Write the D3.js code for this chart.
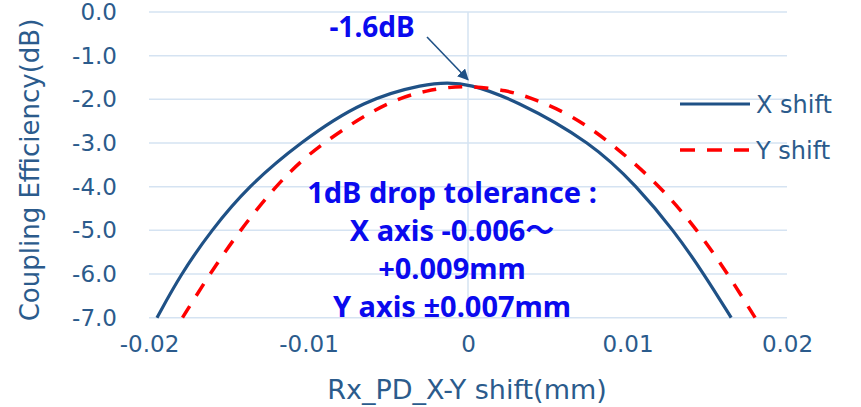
<!DOCTYPE html>
<html>
<head>
<meta charset="utf-8">
<script src="https://cdn.jsdelivr.net/npm/d3@7"></script>
<style>
  body { margin: 0; background: #fff; }
  svg { display: block; }
</style>
</head>
<body>
<svg id="chart" width="861" height="407"></svg>
<script>
// values
const xShiftPos = [-0.0195, -0.0180, -0.0161, -0.0138, -0.0106, -0.0065, -0.0026, -0.0013, 0.0, 0.0029, 0.0078, 0.0106, 0.0129, 0.0148, 0.0165];
const xShiftDb  = [-7.0, -6.0, -5.0, -4.0, -3.0, -2.0, -1.64, -1.62, -1.64, -2.0, -3.0, -4.0, -5.0, -6.0, -7.0];

const yShiftPos = [-0.0179, -0.0162, -0.0143, -0.0121, -0.0101, -0.0074, -0.0060, -0.0045, -0.0027, -0.0003, 0.0025, 0.0042, 0.0065, 0.0090, 0.0121, 0.0144, 0.0163, 0.0180];
const yShiftDb  = [-7.0, -6.0, -5.0, -4.0, -3.27, -2.58, -2.28, -2.0, -1.80, -1.67, -1.79, -2.0, -2.36, -3.0, -4.0, -5.0, -6.0, -7.0];

const xTicks = [-0.02, -0.01, 0, 0.01, 0.02];
const yTicks = [0, -1, -2, -3, -4, -5, -6, -7];

const seriesNames = ["X shift", "Y shift"];
const noteLines = ["1dB drop tolerance :", "X axis -0.006\u301C", "+0.009mm", "Y axis \u00B10.007mm"];
const peakLabel = "-1.6dB";

const textColor = "#2b5b8c",
    navy = "#1f5186",
    red = "#ff0000",
    gridColor = "#d5e3f2",
    noteBlue = "#0a0aee";

const svg = d3.select("#chart");

const x = d3.scaleLinear().domain([-0.02, 0.02]).range([149, 787]);
const y = d3.scaleLinear().domain([-7, 0]).range([317.7, 12]);

// horizontal grid
svg.append("g")
  .selectAll("line")
  .data(yTicks)
  .join("line")
    .attr("x1", x(-0.02)).attr("x2", x(0.02))
    .attr("y1", d => y(d)).attr("y2", d => y(d))
    .attr("stroke", gridColor).attr("stroke-width", 1.5);

// vertical axis line at zero
svg.append("line")
  .attr("x1", x(0)).attr("x2", x(0))
  .attr("y1", y(0)).attr("y2", y(-7))
  .attr("stroke", gridColor).attr("stroke-width", 1.5);

// y tick labels (hyphen minus, like the original)
const yAxis = d3.axisLeft(y).tickValues(yTicks).tickFormat(d => d.toFixed(1)).tickSize(0).tickPadding(0);
svg.append("g")
  .attr("transform", "translate(117,0)")
  .call(yAxis)
  .call(g => g.select(".domain").remove())
  .selectAll("text")
    .attr("fill", textColor)
    .style("font-family", "DejaVu Sans")
    .style("font-size", "23px");

// x tick labels
const xAxis = d3.axisBottom(x).tickValues(xTicks).tickFormat(d => d === 0 ? "0" : d.toFixed(2)).tickSize(0).tickPadding(0);
svg.append("g")
  .attr("transform", "translate(0,336)")
  .call(xAxis)
  .call(g => g.select(".domain").remove())
  .selectAll("text")
    .attr("fill", textColor)
    .style("font-family", "DejaVu Sans")
    .style("font-size", "23px");

// axis titles
svg.append("text")
  .attr("x", 467).attr("y", 399)
  .attr("text-anchor", "middle")
  .attr("fill", textColor)
  .style("font-family", "DejaVu Sans")
  .style("font-size", "27px")
  .text("Rx_PD_X-Y shift(mm)");

svg.append("text")
  .attr("transform", "translate(39,170) rotate(-90)")
  .attr("text-anchor", "middle")
  .attr("fill", textColor)
  .style("font-family", "DejaVu Sans")
  .style("font-size", "26px")
  .text("Coupling Efficiency(dB)");

// lines (smoothed like the spreadsheet's curves)
const line = d3.line()
  .x(d => x(d[0]))
  .y(d => y(d[1]))
  .curve(d3.curveBasis);

svg.append("path")
  .datum(d3.zip(xShiftPos, xShiftDb))
  .attr("fill", "none")
  .attr("stroke", navy)
  .attr("stroke-width", 3.2)
  .attr("d", line);

svg.append("path")
  .datum(d3.zip(yShiftPos, yShiftDb))
  .attr("fill", "none")
  .attr("stroke", red)
  .attr("stroke-width", 3.5)
  .attr("stroke-dasharray", "14,12")
  .attr("d", line);

// legend
const legend = svg.append("g");
seriesNames.forEach((name, i) => {
  const ly = 104 + i * 46;
  legend.append("line")
    .attr("x1", 680).attr("x2", 750)
    .attr("y1", ly).attr("y2", ly)
    .attr("stroke", i === 0 ? navy : red)
    .attr("stroke-width", i === 0 ? 3.2 : 3.5)
    .attr("stroke-dasharray", i === 0 ? null : "15,12");
  legend.append("text")
    .attr("x", 756).attr("y", ly + 9)
    .attr("fill", textColor)
    .style("font-family", "DejaVu Sans")
    .style("font-size", "24px")
    .text(name);
});

// peak annotation
const defs = svg.append("defs");
defs.append("marker")
  .attr("id", "arrowHead")
  .attr("viewBox", "0 0 10 10")
  .attr("refX", 9).attr("refY", 5)
  .attr("markerWidth", 7).attr("markerHeight", 7)
  .attr("markerUnits", "strokeWidth")
  .attr("orient", "auto")
  .append("path")
    .attr("d", "M0,0 L10,5 L0,10 z")
    .attr("fill", navy);

svg.append("line")
  .attr("x1", 427).attr("y1", 37)
  .attr("x2", x(0)).attr("y2", y(-1.55))
  .attr("stroke", navy)
  .attr("stroke-width", 1.6)
  .attr("marker-end", "url(#arrowHead)");

svg.append("text")
  .attr("x", 372).attr("y", 37)
  .attr("text-anchor", "middle")
  .attr("fill", noteBlue)
  .style("font-family", "'Noto Sans', 'Noto Sans CJK JP'")
  .style("font-weight", "bold")
  .style("font-size", "28px")
  .text(peakLabel);

// tolerance note
svg.append("g")
  .selectAll("text")
  .data(noteLines)
  .join("text")
    .attr("x", 452)
    .attr("y", (d, i) => 203 + i * 38)
    .attr("text-anchor", "middle")
    .attr("fill", noteBlue)
    .style("font-family", "'Noto Sans', 'Noto Sans CJK JP'")
    .style("font-weight", "bold")
    .style("font-size", "29px")
    .text(d => d);
</script>
</body>
</html>
